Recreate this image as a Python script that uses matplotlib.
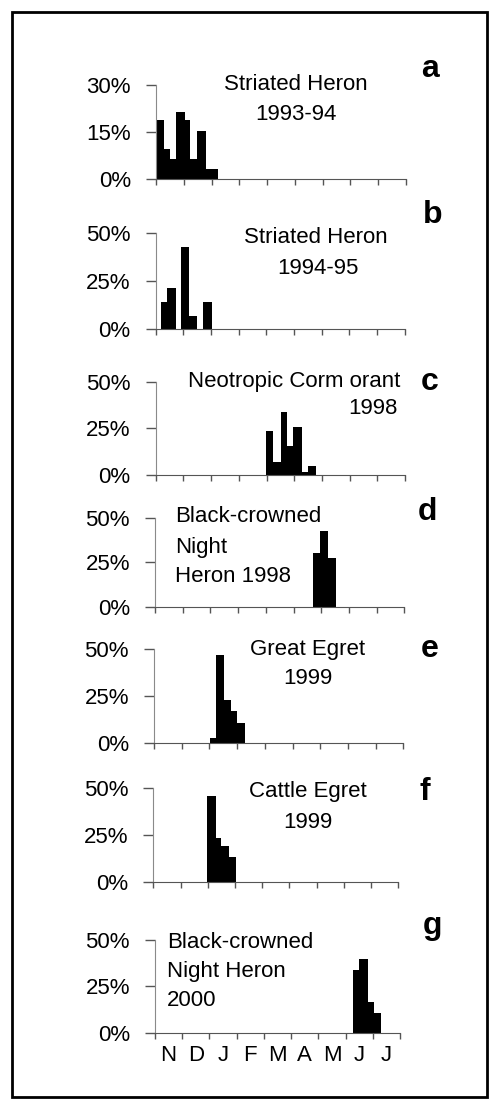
import matplotlib.pyplot as plt
from matplotlib.patches import Rectangle

plt.rcParams["font.family"] = ["Liberation Sans", "DejaVu Sans"]

W, H = 498, 1108

months = ["N", "D", "J", "F", "M", "A", "M", "J", "J"]

# sampling periods in months since 1 Nov, and % of nests per period
a_start = [0.00, 0.29, 0.50, 0.72, 1.05, 1.24, 1.47, 1.81]
a_end = [0.29, 0.50, 0.72, 1.05, 1.24, 1.47, 1.81, 2.23]
a_pct = [18.8, 9.6, 6.5, 21.4, 18.8, 6.5, 15.2, 3.1]

b_start = [0.20, 0.42, 0.91, 1.20, 1.70]
b_end = [0.42, 0.74, 1.20, 1.48, 2.02]
b_pct = [14.3, 21.4, 42.9, 7.1, 14.3]

c_start = [3.98, 4.25, 4.51, 4.75, 4.94, 5.27, 5.51]
c_end = [4.25, 4.51, 4.75, 4.94, 5.27, 5.51, 5.79]
c_pct = [23.5, 7.0, 34.0, 15.5, 25.5, 1.5, 5.0]

d_start = [5.69, 5.97, 6.25]
d_end = [5.97, 6.25, 6.52]
d_pct = [30.3, 42.5, 27.2]

e_start = [2.02, 2.23, 2.53, 2.78, 3.01]
e_end = [2.23, 2.53, 2.78, 3.01, 3.29]
e_pct = [2.5, 47.0, 23.0, 17.0, 10.5]

f_start = [1.99, 2.30, 2.49, 2.79]
f_end = [2.30, 2.49, 2.79, 3.05]
f_pct = [45.6, 23.0, 19.0, 12.9]

g_start = [7.27, 7.48, 7.82, 8.03]
g_end = [7.48, 7.82, 8.03, 8.30]
g_pct = [34.0, 40.0, 16.5, 10.5]

panels = [
    # letter, data, ymax, yticks, axes box in px (x0, x1, ytop, ybottom)
    ("a", a_start, a_end, a_pct, 30, [0, 15, 30], (156, 406, 85, 179)),
    ("b", b_start, b_end, b_pct, 50, [0, 25, 50], (155.7, 404.7, 233.3, 329.3)),
    ("c", c_start, c_end, c_pct, 50, [0, 25, 50], (155.7, 405, 381.7, 475)),
    ("d", d_start, d_end, d_pct, 50, [0, 25, 50], (155, 404.3, 517.7, 606.7)),
    ("e", e_start, e_end, e_pct, 50, [0, 25, 50], (154, 403.3, 649.3, 743)),
    ("f", f_start, f_end, f_pct, 50, [0, 25, 50], (153.3, 398.3, 787.7, 881.7)),
    ("g", g_start, g_end, g_pct, 50, [0, 25, 50], (155, 400, 940, 1032.7)),
]

fig = plt.figure(figsize=(W / 100, H / 100), dpi=100)

def fx(px):
    return px / W

def fy(py):
    return 1 - py / H

for letter, starts, ends, pct, ymax, yt, box in panels:
    x0, x1, yt_px, yb_px = box
    ax = fig.add_axes([fx(x0), fy(yb_px), fx(x1 - x0), (yb_px - yt_px) / H])
    widths = [e - s for s, e in zip(starts, ends)]
    ax.bar(starts, pct, width=widths, align="edge", color="black", linewidth=0)
    ax.set_xlim(0, 9)
    ax.set_ylim(0, ymax)
    ax.set_yticks(yt)
    ax.set_yticklabels([f"{v}%" for v in yt], fontsize=16)
    ax.set_xticks(range(10))
    if letter == "g":
        ax.set_xticks([m + 0.5 for m in range(9)], minor=True)
        ax.set_xticklabels(months, minor=True, fontsize=16)
        ax.tick_params(axis="x", which="minor", length=0, pad=9)
    ax.set_xticklabels([])
    ax.spines["top"].set_visible(False)
    ax.spines["right"].set_visible(False)
    ax.spines["left"].set_color("#8a8a8a")
    ax.spines["bottom"].set_color("#555555")
    ax.tick_params(axis="y", length=7, width=1, color="#555555", pad=11)
    ax.tick_params(axis="x", which="major", length=4, width=1, color="#555555", direction="out")
    ax.patch.set_alpha(0)

# species labels
fs = 16
fig.text(fx(296), fy(85), "Striated Heron", ha="center", va="center", fontsize=fs)
fig.text(fx(296), fy(115), "1993-94", ha="center", va="center", fontsize=fs)
fig.text(fx(316), fy(238), "Striated Heron", ha="center", va="center", fontsize=fs)
fig.text(fx(318), fy(268), "1994-95", ha="center", va="center", fontsize=fs)
fig.text(fx(400), fy(382), "Neotropic Corm orant", ha="right", va="center", fontsize=fs)
fig.text(fx(398), fy(408), "1998", ha="right", va="center", fontsize=fs)
fig.text(fx(175), fy(517), "Black-crowned", ha="left", va="center", fontsize=fs)
fig.text(fx(175), fy(547), "Night", ha="left", va="center", fontsize=fs)
fig.text(fx(175), fy(577), "Heron 1998", ha="left", va="center", fontsize=fs)
fig.text(fx(308), fy(649), "Great Egret", ha="center", va="center", fontsize=fs)
fig.text(fx(308), fy(678), "1999", ha="center", va="center", fontsize=fs)
fig.text(fx(308), fy(792), "Cattle Egret", ha="center", va="center", fontsize=fs)
fig.text(fx(308), fy(822), "1999", ha="center", va="center", fontsize=fs)
fig.text(fx(167), fy(942), "Black-crowned", ha="left", va="center", fontsize=fs)
fig.text(fx(167), fy(971), "Night Heron", ha="left", va="center", fontsize=fs)
fig.text(fx(167), fy(1000), "2000", ha="left", va="center", fontsize=fs)

# panel letters
letter_pos = {"a": (430, 69), "b": (433, 215), "c": (430, 382), "d": (427, 512),
              "e": (430, 649), "f": (425, 792), "g": (432, 926)}
for k, (px, py) in letter_pos.items():
    fig.text(fx(px), fy(py), k, ha="center", va="center", fontsize=23, fontweight="bold")

# outer frame
fig.patches.append(Rectangle((fx(12), fy(1097)), fx(475), (1097 - 12) / H,
                             transform=fig.transFigure, fill=False,
                             edgecolor="black", linewidth=2))

fig.savefig("out.png", dpi=100)
